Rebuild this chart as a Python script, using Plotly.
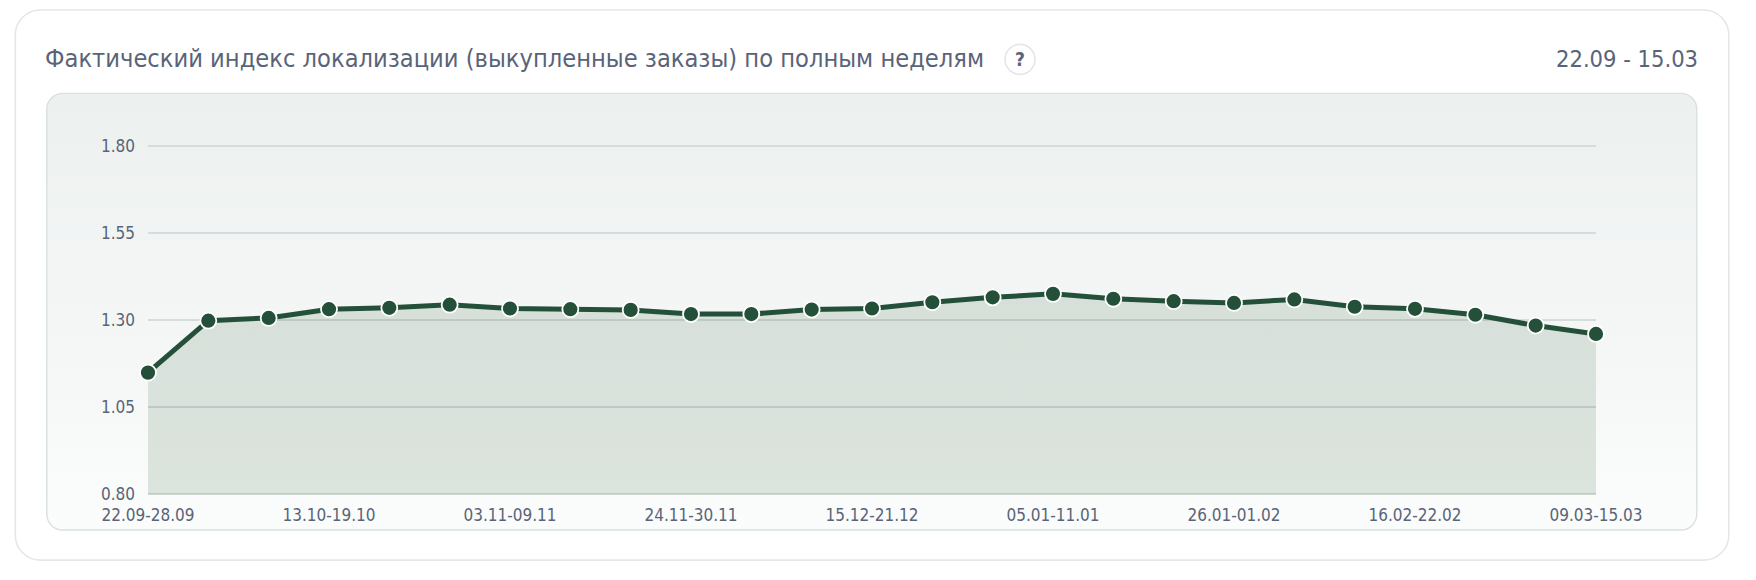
import base64
import plotly.graph_objects as go

weeks = ["22.09-28.09","29.09-05.10","06.10-12.10","13.10-19.10","20.10-26.10","27.10-02.11","03.11-09.11",
         "10.11-16.11","17.11-23.11","24.11-30.11","01.12-07.12","08.12-14.12","15.12-21.12","22.12-28.12",
         "29.12-04.01","05.01-11.01","12.01-18.01","19.01-25.01","26.01-01.02","02.02-08.02","09.02-15.02",
         "16.02-22.02","23.02-01.03","02.03-08.03","09.03-15.03"]
values = [1.149,1.298,1.306,1.331,1.335,1.344,1.333,1.331,1.329,1.317,1.317,1.330,1.333,1.351,
          1.365,1.375,1.361,1.354,1.349,1.359,1.338,1.332,1.315,1.284,1.260]
x_ticks = weeks[::3]
y_ticks = [0.80,1.05,1.30,1.55,1.80]
title_text = "Фактический индекс локализации (выкупленные заказы) по полным неделям"
range_text = "22.09 - 15.03"

W, H = 1756, 580
L, R = 148, 1596
T, B = 143.55, 496.45   # 1.80 at y=145.3, 0.80 at y=494.7 with the axis padding below
EPS = 0.005
FONT = "DejaVu Sans Condensed, DejaVu Sans, sans-serif"
TXT = "#596478"
DARK = "#24503a"

svg = f'''<svg xmlns="http://www.w3.org/2000/svg" width="{W}" height="{H}" viewBox="0 0 {W} {H}">
<defs><linearGradient id="g" x1="0" y1="0" x2="0" y2="1"><stop offset="0" stop-color="#ecf0ef"/><stop offset="1" stop-color="#fbfcfc"/></linearGradient></defs>
<rect x="15.3" y="9.2" width="1713.5" height="551.5" rx="25" ry="25" fill="#ffffff" stroke="#e3e7e7" stroke-width="1.6"/>
<rect x="46.8" y="92.8" width="1650" height="437.8" rx="16" ry="16" fill="url(#g)" stroke="#d8e1de" stroke-width="1.4"/>
</svg>'''
bg = "data:image/svg+xml;base64," + base64.b64encode(svg.encode()).decode()

fig = go.Figure()
fig.add_trace(go.Scatter(
    x=weeks, y=[y_ticks[0]] * len(weeks), mode="lines", line=dict(width=0, color="rgba(0,0,0,0)"),
    hoverinfo="skip", showlegend=False,
))
fig.add_trace(go.Scatter(
    x=weeks, y=values, mode="lines+markers", fill="tonexty",
    fillcolor="rgba(40,90,50,0.14)", cliponaxis=False,
    line=dict(color=DARK, width=5),
    marker=dict(color=DARK, size=16, line=dict(color="#ffffff", width=1.8)),
    hoverinfo="x+y", showlegend=False,
))
fig.update_layout(
    width=W, height=H, margin=dict(l=L, r=W-R, t=T, b=H-B, autoexpand=False),
    paper_bgcolor="#ffffff", plot_bgcolor="rgba(0,0,0,0)",
    font=dict(family=FONT, color=TXT, size=17),
    images=[dict(source=bg, xref="paper", yref="paper", layer="below",
                 x=(0-L)/(R-L), y=(B-0)/(B-T), sizex=W/(R-L), sizey=H/(B-T),
                 xanchor="left", yanchor="top", sizing="stretch")],
    shapes=[dict(type="circle", xref="paper", yref="paper", layer="above",
                 x0=(1005-L)/(R-L), x1=(1035-L)/(R-L),
                 y0=(B-43.7)/(B-T), y1=(B-73.7)/(B-T),
                 fillcolor="#ffffff", line=dict(color="#e3e6e7", width=1.6))],
    annotations=[
        dict(text=title_text, xref="paper", yref="paper", x=(43-L)/(R-L), y=(B-58)/(B-T),
             xanchor="left", yanchor="middle", showarrow=False, font=dict(size=25.2, color=TXT)),
        dict(text=range_text, xref="paper", yref="paper", x=(1700-L)/(R-L), y=(B-58)/(B-T),
             xanchor="right", yanchor="middle", showarrow=False, font=dict(size=23.5, color=TXT)),
        dict(text="<b>?</b>", xref="paper", yref="paper", x=(1020-L)/(R-L), y=(B-58.7)/(B-T),
             xanchor="center", yanchor="middle", showarrow=False, font=dict(size=19, color=TXT)),
    ],
)
fig.update_xaxes(type="category", categoryorder="array", categoryarray=weeks, range=[0, 24],
                 tickmode="array", tickvals=x_ticks, ticktext=x_ticks, showgrid=False, zeroline=False,
                 showline=False, ticks="", ticklabelstandoff=7, tickangle=0, tickfont=dict(size=17, color=TXT))
fig.update_yaxes(range=[0.8-EPS, 1.8+EPS], tickmode="array", tickvals=y_ticks, ticktext=[f"{v:.2f}" for v in y_ticks],
                 showgrid=True, gridcolor="#d5dcda", gridwidth=1.5, zeroline=False, showline=False, ticks="",
                 ticklabelstandoff=12, tickfont=dict(size=17, color=TXT))
fig.write_html("out.html", config=dict(displayModeBar=False), post_script="document.body.style.margin='0';")
